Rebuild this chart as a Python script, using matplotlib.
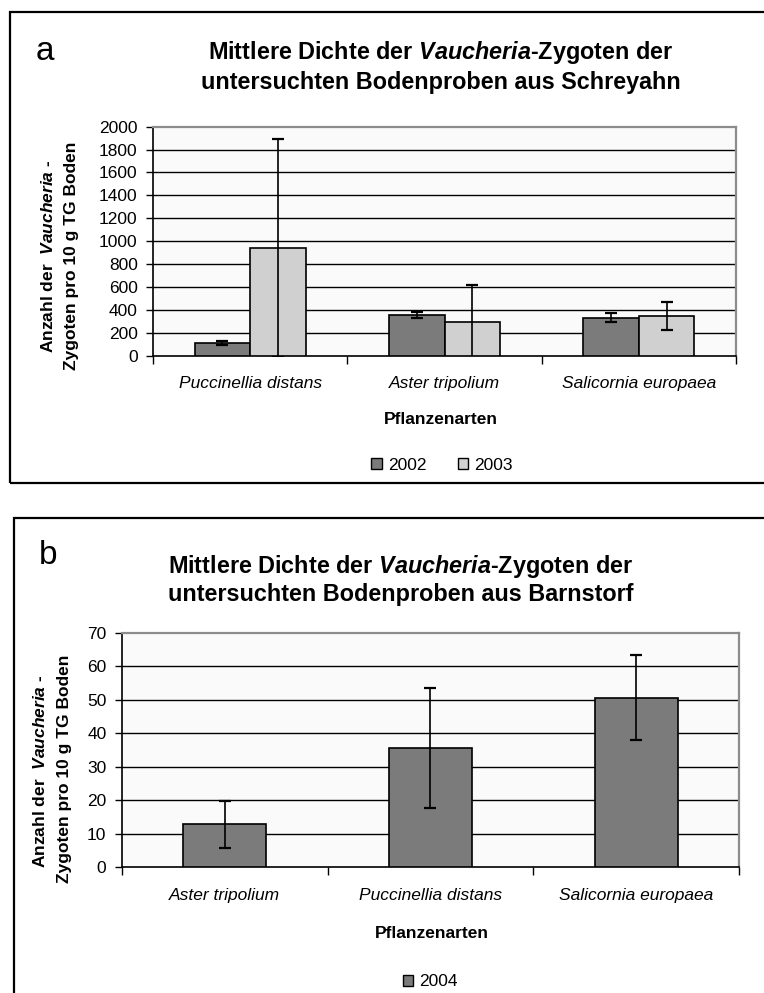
import matplotlib
matplotlib.use("Agg")
import matplotlib.pyplot as plt
from matplotlib.patches import Rectangle, Patch
import numpy as np

plt.rcParams['font.family'] = ['Liberation Sans', 'DejaVu Sans']
plt.rcParams['mathtext.fontset'] = 'custom'
plt.rcParams['mathtext.rm'] = 'Liberation Sans'
plt.rcParams['mathtext.it'] = 'Liberation Sans:italic'
plt.rcParams['mathtext.bf'] = 'Liberation Sans:bold'
plt.rcParams['mathtext.bfit'] = 'Liberation Sans:italic:bold'

# ---------------- data ----------------
cats_a = ["Puccinellia distans", "Aster tripolium", "Salicornia europaea"]
vals_2002 = [110, 353, 332]
err_2002 = [16, 28, 43]
vals_2003 = [941, 297, 345]
err_2003 = [950, 315, 125]
yticks_a = [0, 200, 400, 600, 800, 1000, 1200, 1400, 1600, 1800, 2000]

cats_b = ["Aster tripolium", "Puccinellia distans", "Salicornia europaea"]
vals_2004 = [12.8, 35.6, 50.6]
err_2004 = [7.1, 18.0, 12.6]
yticks_b = [0, 10, 20, 30, 40, 50, 60, 70]

title_a = ["Mittlere Dichte der $\\mathbfit{Vaucheria}$-Zygoten der",
           "untersuchten Bodenproben aus Schreyahn"]
title_b = ["Mittlere Dichte der $\\mathbfit{Vaucheria}$-Zygoten der",
           "untersuchten Bodenproben aus Barnstorf"]
ylab1 = "Anzahl der  $\\mathbfit{Vaucheria}$ -"
ylab2 = "Zygoten pro 10 g TG Boden"
xlab = "Pflanzenarten"

W, H = 764, 993
fig = plt.figure(figsize=(W / 100, H / 100), dpi=100)
fig.patch.set_facecolor('white')

def fx(x):
    return x / W

def fy(y):
    return 1 - y / H

def axes_px(l, t, r, b):
    return fig.add_axes([fx(l), fy(b), (r - l) / W, (b - t) / H])

DARK = '#7b7b7b'
LIGHT = '#d0d0d0'
BG = '#fafafa'

def style_axes(ax, yticks, ncat):
    ax.set_facecolor(BG)
    ax.set_xlim(-0.5, ncat - 0.5)
    ax.set_ylim(yticks[0], yticks[-1])
    ax.set_yticks(yticks)
    ax.tick_params(axis='y', direction='out', length=5, width=1, pad=6,
                   labelsize=12.5, color='black')
    ax.set_xticks(np.arange(ncat))
    ax.set_xticks(np.arange(ncat + 1) - 0.5, minor=True)
    ax.tick_params(axis='x', which='major', length=0, pad=15, labelsize=12.5)
    ax.tick_params(axis='x', which='minor', direction='out', length=6,
                   width=1, color='black')
    for lab in ax.get_xticklabels():
        lab.set_fontstyle('italic')
    for t in yticks[1:-1]:
        ax.axhline(t, color='black', lw=1.0, zorder=1)
    ax.spines['left'].set_color('black')
    ax.spines['bottom'].set_color('black')
    ax.spines['top'].set_color('#8c8c8c')
    ax.spines['right'].set_color('#8c8c8c')
    for s in ax.spines.values():
        s.set_linewidth(1.2)
    ax.spines['top'].set_linewidth(1.6)
    ax.spines['right'].set_linewidth(1.6)

ekw = dict(ecolor='black', elinewidth=1.2, capsize=4.5, capthick=1.6)

# ---------------- panel frames ----------------
fig.patches.append(Rectangle((fx(10), fy(483)), (W + 20 - 10) / W, (483 - 12) / H,
                             transform=fig.transFigure, fill=False,
                             edgecolor='black', lw=1.6, clip_on=False))
fig.patches.append(Rectangle((fx(13.5), fy(H + 20)), (W + 20 - 13.5) / W, (H + 20 - 518) / H,
                             transform=fig.transFigure, fill=False,
                             edgecolor='black', lw=1.6, clip_on=False))

# ---------------- panel a ----------------
axa = axes_px(153, 126.7, 736, 355.5)
xa = np.arange(len(cats_a))
bw = 0.286
axa.bar(xa - bw / 2, vals_2002, bw, color=DARK, edgecolor='black', lw=1.2,
        zorder=3, yerr=err_2002, error_kw=ekw, label='2002')
axa.bar(xa + bw / 2, vals_2003, bw, color=LIGHT, edgecolor='black', lw=1.2,
        zorder=3, yerr=err_2003, error_kw=ekw, label='2003')
axa.set_xticks(xa)
axa.set_xticklabels(cats_a)
style_axes(axa, yticks_a, len(cats_a))

fig.text(fx(45), fy(52), "a", fontsize=24, ha='center', va='center')
fig.text(fx(441), fy(53), title_a[0], fontsize=16.8, fontweight='bold', ha='center', va='center')
fig.text(fx(441), fy(82), title_a[1], fontsize=16.8, fontweight='bold', ha='center', va='center')
fig.text(fx(48.5), fy(256), ylab1, fontsize=12.5, fontweight='bold', rotation=90,
         ha='center', va='center')
fig.text(fx(71.5), fy(256), ylab2, fontsize=12.5, fontweight='bold', rotation=90,
         ha='center', va='center')
fig.text(fx(441), fy(419), xlab, fontsize=12.5, fontweight='bold', ha='center', va='center')

ha_ = [Patch(facecolor=DARK, edgecolor='black', lw=1.0),
       Patch(facecolor=LIGHT, edgecolor='black', lw=1.0)]
fig.legend(ha_, ['2002', '2003'], loc='center', bbox_to_anchor=(fx(442), fy(465)),
           ncol=2, frameon=False, fontsize=12.5, handlelength=0.6, handleheight=0.6,
           handletextpad=0.35, columnspacing=1.8, borderpad=0)

# ---------------- panel b ----------------
axb = axes_px(121.7, 632.6, 739.3, 867.3)
xb = np.arange(len(cats_b))
axb.bar(xb, vals_2004, 0.4, color=DARK, edgecolor='black', lw=1.2, zorder=3,
        yerr=err_2004, error_kw=ekw, label='2004')
axb.set_xticks(xb)
axb.set_xticklabels(cats_b)
style_axes(axb, yticks_b, len(cats_b))

fig.text(fx(48), fy(556), "b", fontsize=24, ha='center', va='center')
fig.text(fx(401), fy(567), title_b[0], fontsize=16.8, fontweight='bold', ha='center', va='center')
fig.text(fx(401), fy(595), title_b[1], fontsize=16.8, fontweight='bold', ha='center', va='center')
fig.text(fx(40.5), fy(771), ylab1, fontsize=12.5, fontweight='bold', rotation=90,
         ha='center', va='center')
fig.text(fx(65), fy(769), ylab2, fontsize=12.5, fontweight='bold', rotation=90,
         ha='center', va='center')
fig.text(fx(432), fy(933), xlab, fontsize=12.5, fontweight='bold', ha='center', va='center')

hb = [Patch(facecolor=DARK, edgecolor='black', lw=1.0)]
fig.legend(hb, ['2004'], loc='center', bbox_to_anchor=(fx(430), fy(982)),
           ncol=1, frameon=False, fontsize=12.5, handlelength=0.6, handleheight=0.6,
           handletextpad=0.35, borderpad=0)

fig.savefig("out.png", dpi=100, facecolor='white')
